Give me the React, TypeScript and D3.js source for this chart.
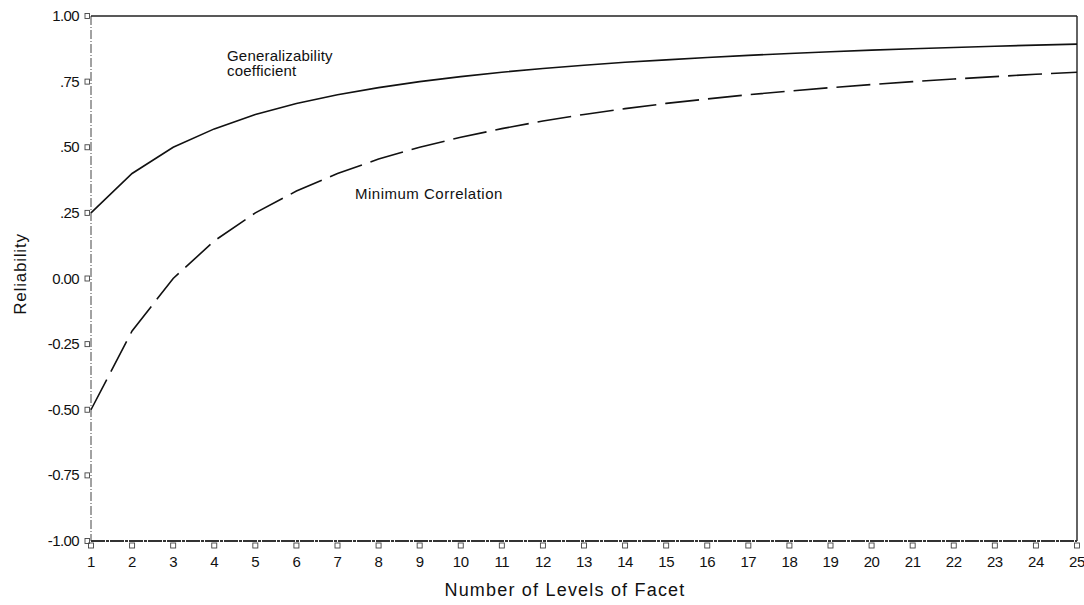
import React from "react";
import * as d3 from "d3";

const levels = [1,2,3,4,5,6,7,8,9,10,11,12,13,14,15,16,17,18,19,20,21,22,23,24,25];
const generalizability = [0.25,0.40,0.50,0.57,0.625,0.667,0.70,0.727,0.75,0.769,0.786,0.80,0.8125,0.824,0.833,0.842,0.85,0.857,0.864,0.87,0.875,0.88,0.885,0.889,0.893];
const minimumCorrelation = [-0.5,-0.2,0.0,0.143,0.25,0.333,0.40,0.455,0.50,0.538,0.571,0.60,0.625,0.647,0.667,0.684,0.70,0.714,0.727,0.739,0.75,0.76,0.769,0.778,0.786];
const yTicks = [1, 0.75, 0.5, 0.25, 0, -0.25, -0.5, -0.75, -1];
const yTickLabels = ["1.00", ".75", ".50", ".25", "0.00", "-0.25", "-0.50", "-0.75", "-1.00"];

const W = 1084, H = 605;
const left = 91, right = 1077, top = 16, bottom = 541;

export default function App() {
  const x = d3.scaleLinear().domain([1, 25]).range([left, right]);
  const y = d3.scaleLinear().domain([-1, 1]).range([bottom, top]);
  const line = d3.line<number>().x((_, i) => x(levels[i])).y((d) => y(d));
  const font = "'Liberation Sans', Arial, sans-serif";
  return (
    <svg width={W} height={H} style={{ position: "absolute", left: 0, top: 0, background: "#fff" }} fontFamily={font}>
      {/* frame */}
      <line x1={left} x2={left} y1={top} y2={bottom} stroke="#444" strokeWidth={1} strokeDasharray="9,2,1,2" />
      <line x1={left} x2={right} y1={top} y2={top} stroke="#222" strokeWidth={1.6} />
      <line x1={right} x2={right} y1={top} y2={bottom} stroke="#222" strokeWidth={1.4} />
      <line x1={left} x2={right} y1={bottom} y2={bottom} stroke="#333" strokeWidth={2} strokeDasharray="14,1,3,1" />
      {/* y ticks */}
      {yTicks.map((t, i) => (
        <g key={"y" + i}>
          <rect x={left - 6} y={y(t) - 2.5} width={4.5} height={5} fill="none" stroke="#444" strokeWidth={0.9} />
          <text x={left - 12} y={y(t) + 5} textAnchor="end" fontSize={15} letterSpacing={-0.6} fill="#111">{yTickLabels[i]}</text>
        </g>
      ))}
      {/* x ticks */}
      {levels.map((n) => (
        <g key={"x" + n}>
          <rect x={x(n) - 2.5} y={bottom + 2} width={5} height={5} fill="none" stroke="#444" strokeWidth={0.9} />
          <text x={x(n)} y={567} textAnchor="middle" fontSize={15} letterSpacing={-0.4} fill="#111">{n}</text>
        </g>
      ))}
      {/* curves */}
      <path d={line(generalizability) || ""} fill="none" stroke="#111" strokeWidth={1.6} />
      <path d={line(minimumCorrelation) || ""} fill="none" stroke="#111" strokeWidth={1.6} strokeDasharray="34,9" />
      {/* annotations */}
      <text x={227} y={61} fontSize={15} letterSpacing={0.2} fill="#111">Generalizability</text>
      <text x={227} y={76} fontSize={15} letterSpacing={0.2} fill="#111">coefficient</text>
      <text x={355} y={199} fontSize={15} letterSpacing={0.5} fill="#111">Minimum Correlation</text>
      {/* axis titles */}
      <text x={565} y={596} textAnchor="middle" fontSize={18} letterSpacing={1.2} fill="#111">Number of Levels of Facet</text>
      <text transform="translate(26,274) rotate(-90)" textAnchor="middle" fontSize={17} letterSpacing={0.8} fill="#111">Reliability</text>
    </svg>
  );
}
